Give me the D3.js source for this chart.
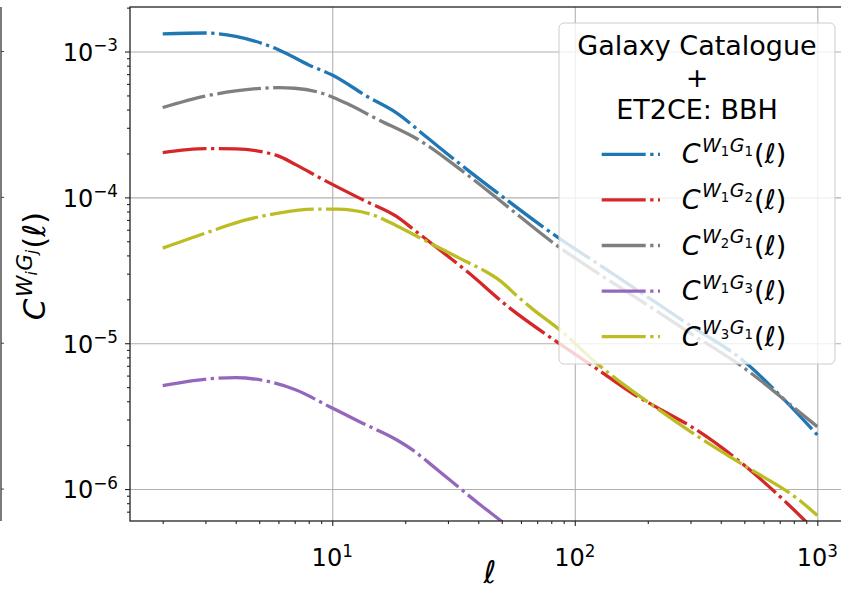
<!DOCTYPE html>
<html>
<head>
<meta charset="utf-8">
<script src="https://cdn.jsdelivr.net/npm/d3@7"></script>
<style>
  body { margin: 0; background: #fff; }
  svg { display: block; font-family: "DejaVu Sans", sans-serif; }
</style>
</head>
<body>
<svg id="chart" width="841" height="593"></svg>
<script>
// Angular cross-spectra of GW-sourced (W) and galaxy (G) tomographic bins
const ellW1G1 = [2, 3, 4, 6, 8, 10, 14, 18.4, 25, 36, 50, 84, 120, 200, 300, 500, 730, 1000];
const cW1G1   = [1.32e-3, 1.34e-3, 1.27e-3, 1.03e-3, 8.1e-4, 6.9e-4, 4.9e-4, 3.8e-4, 2.52e-4, 1.55e-4, 1.02e-4, 5.4e-5, 3.65e-5, 2.07e-5, 1.32e-5, 7.5e-6, 4.1e-6, 2.35e-6];

const ellW1G2 = [2, 3, 4, 5.9, 7.1, 9.2, 13.4, 18.4, 22, 26, 36, 54, 79, 123, 174, 218, 310, 528, 750, 1000];
const cW1G2   = [2.03e-4, 2.16e-4, 2.15e-4, 1.94e-4, 1.67e-4, 1.32e-4, 9.6e-5, 7.4e-5, 5.9e-5, 4.75e-5, 3.1e-5, 1.74e-5, 1.1e-5, 6.7e-6, 4.5e-6, 3.63e-6, 2.61e-6, 1.35e-6, 8.0e-7, 5.0e-7];

const ellW2G1 = [2, 3, 4, 6, 7, 9, 11.4, 15, 23, 36, 50, 84, 120, 200, 300, 500, 580, 775, 1000];
const cW2G1   = [4.13e-4, 4.95e-4, 5.37e-4, 5.65e-4, 5.6e-4, 5.2e-4, 4.43e-4, 3.5e-4, 2.45e-4, 1.43e-4, 9.3e-5, 4.7e-5, 3.15e-5, 1.82e-5, 1.17e-5, 6.75e-6, 5.6e-6, 3.78e-6, 2.68e-6];

const ellW1G3 = [2, 3.1, 4, 5.5, 7.1, 9.75, 13.4, 18.4, 21.5, 25.2, 29, 40, 50, 60];
const cW1G3   = [5.12e-6, 5.7e-6, 5.8e-6, 5.45e-6, 4.78e-6, 3.67e-6, 2.82e-6, 2.18e-6, 1.85e-6, 1.5e-6, 1.24e-6, 8.0e-7, 6.0e-7, 4.7e-7];

const ellW3G1 = [2, 3.1, 4.4, 6, 8.6, 10.4, 14.3, 18.4, 24.5, 30, 36, 43, 49, 58, 67.5, 87, 123, 148, 208, 330, 514, 827, 1000];
const cW3G1   = [4.49e-5, 5.8e-5, 7.0e-5, 7.8e-5, 8.3e-5, 8.3e-5, 7.7e-5, 6.4e-5, 5.0e-5, 4.2e-5, 3.6e-5, 3.1e-5, 2.7e-5, 2.1e-5, 1.7e-5, 1.23e-5, 7.3e-6, 5.7e-6, 3.78e-6, 2.23e-6, 1.41e-6, 8.6e-7, 6.6e-7];

// bin indices (W_i, G_j) for the legend, in plotting order
const binPairs = [["1", "1"], ["1", "2"], ["2", "1"], ["1", "3"], ["3", "1"]];
const colors   = ["#1f77b4", "#d62728", "#7f7f7f", "#9467bd", "#bcbd22"];
const legendTitle = ["Galaxy Catalogue", "+", "ET2CE: BBH"];

// tick labels
const xMajor = [10, 100, 1000];
const xMajorExp = ["1", "2", "3"];
const yMajor = [1e-6, 1e-5, 1e-4, 1e-3];
const yMajorExp = ["\u22126", "\u22125", "\u22124", "\u22123"];

const series = [
  { ell: ellW1G1, c: cW1G1 },
  { ell: ellW1G2, c: cW1G2 },
  { ell: ellW2G1, c: cW2G1 },
  { ell: ellW1G3, c: cW1G3 },
  { ell: ellW3G1, c: cW3G1 }
];

const svg = d3.select("#chart");
const plot = { left: 130, right: 850, top: 7, bottom: 521 };

const x = d3.scaleLog().domain([1.466, 1364]).range([plot.left, plot.right]);
const y = d3.scaleLog().domain([2.02e-3, 6.04e-7]).range([plot.top, plot.bottom]);

// minor tick positions (2..9 x 10^k) inside the domains
function minorTicks(scale) {
  const [a, b] = d3.extent(scale.domain());
  const out = [];
  for (let k = Math.floor(Math.log10(a)); k <= Math.ceil(Math.log10(b)); k++) {
    for (let m = 2; m <= 9; m++) {
      const v = m * Math.pow(10, k);
      if (v >= a && v <= b) out.push(v);
    }
  }
  return out;
}

// neighbouring panel edge at far left
const edge = svg.append("g");
edge.append("line").attr("x1", 1).attr("x2", 1).attr("y1", plot.top).attr("y2", plot.bottom)
  .attr("stroke", "#444").attr("stroke-width", 1.4);
yMajor.forEach(v => edge.append("line").attr("x1", 1).attr("x2", 4).attr("y1", y(v)).attr("y2", y(v))
  .attr("stroke", "#444").attr("stroke-width", 1));

// grid
const grid = svg.append("g");
grid.append("g").attr("transform", `translate(0,${plot.bottom})`)
  .call(d3.axisBottom(x).tickValues(xMajor).tickSize(-(plot.bottom - plot.top)).tickFormat(""));
grid.append("g").attr("transform", `translate(${plot.left},0)`)
  .call(d3.axisLeft(y).tickValues(yMajor).tickSize(-(plot.right - plot.left)).tickFormat(""));
grid.selectAll(".domain").remove();
grid.selectAll("line").attr("stroke", "#b0b0b0").attr("stroke-width", 1.1);

// curves
svg.append("clipPath").attr("id", "plotclip").append("rect")
  .attr("x", plot.left).attr("y", plot.top)
  .attr("width", plot.right - plot.left).attr("height", plot.bottom - plot.top);

const line = d3.line().x(d => x(d[0])).y(d => y(d[1])).curve(d3.curveMonotoneX);
const dash = "44 4.5 3.3 4.5";

const curves = svg.append("g").attr("clip-path", "url(#plotclip)");
series.forEach((s, i) => {
  curves.append("path")
    .datum(s.ell.map((e, k) => [e, s.c[k]]))
    .attr("d", line)
    .attr("fill", "none")
    .attr("stroke", colors[i])
    .attr("stroke-width", 3.3)
    .attr("stroke-dasharray", dash)
    .attr("stroke-linecap", "butt");
});

// axes ticks
const axes = svg.append("g");
const styleAxis = g => { g.selectAll(".domain").remove(); g.selectAll("line").attr("stroke", "#222").attr("stroke-width", 1.1); g.selectAll("text").remove(); };
axes.append("g").attr("transform", `translate(0,${plot.bottom})`)
  .call(d3.axisBottom(x).tickValues(xMajor).tickSize(5)).call(styleAxis);
axes.append("g").attr("transform", `translate(0,${plot.bottom})`)
  .call(d3.axisBottom(x).tickValues(minorTicks(x)).tickSize(3)).call(styleAxis);
axes.append("g").attr("transform", `translate(${plot.left},0)`)
  .call(d3.axisLeft(y).tickValues(yMajor).tickSize(5)).call(styleAxis);
axes.append("g").attr("transform", `translate(${plot.left},0)`)
  .call(d3.axisLeft(y).tickValues(minorTicks(y)).tickSize(3)).call(styleAxis);

// spines
svg.append("rect").attr("x", plot.left).attr("y", plot.top)
  .attr("width", plot.right - plot.left).attr("height", plot.bottom - plot.top)
  .attr("fill", "none").attr("stroke", "#222").attr("stroke-width", 1.3);

// mathtext-like label helper: parts = [text, size, italic, dy, dx]
function mathText(t, parts) {
  parts.forEach(p => {
    t.append("tspan").text(p[0])
      .attr("font-size", p[1])
      .attr("font-style", p[2] ? "italic" : "normal")
      .attr("dy", p[3] || 0)
      .attr("dx", p[4] || 0);
  });
  return t;
}

// tick labels
xMajor.forEach((v, i) => {
  const t = svg.append("text").attr("x", x(v)).attr("y", 566).attr("text-anchor", "middle").attr("fill", "#000");
  mathText(t, [["10", 24, false], [xMajorExp[i], 16.8, false, -9.5]]);
});
yMajor.forEach((v, i) => {
  const t = svg.append("text").attr("x", 118).attr("y", y(v) + 9.3).attr("text-anchor", "end").attr("fill", "#000");
  mathText(t, [["10", 24, false], [yMajorExp[i], 16.8, false, -9.5]]);
});

// axis labels
mathText(svg.append("text").attr("x", (plot.left + plot.right) / 2).attr("y", 583).attr("text-anchor", "middle"),
  [["\u2113", 31, true]]);
mathText(svg.append("text").attr("transform", "translate(45,266) rotate(-90)").attr("text-anchor", "middle"),
  [["C", 31, true], ["W", 21.7, true, -13.2, 1.5], ["i", 15.2, true, 5.2], ["G", 21.7, true, -5.2, 0.5],
   ["j", 15.2, true, 5.2], ["(", 31, false, 8, 1], ["\u2113", 31, true], [")", 31, false]]);

// legend
const lg = svg.append("g");
lg.append("rect").attr("x", 559).attr("y", 23).attr("width", 276).attr("height", 341)
  .attr("rx", 5).attr("fill", "#fff").attr("fill-opacity", 0.8)
  .attr("stroke", "#cccccc").attr("stroke-width", 1);
legendTitle.forEach((s, i) => {
  lg.append("text").attr("x", 697).attr("y", 55 + i * 32.2).attr("text-anchor", "middle")
    .attr("font-size", 27).attr("fill", "#000").text(s);
});
binPairs.forEach((bp, i) => {
  const yy = 154.3 + i * 45.6;
  lg.append("line").attr("x1", 601.7).attr("x2", 660).attr("y1", yy).attr("y2", yy)
    .attr("stroke", colors[i]).attr("stroke-width", 3.3)
    .attr("stroke-dasharray", dash).attr("stroke-linecap", "butt");
  const t = lg.append("text").attr("x", 681.7).attr("y", yy + 9).attr("fill", "#000");
  mathText(t, [["C", 27, true], ["W", 19, true, -11.5, 1.5], [bp[0], 13.3, false, 4.5], ["G", 19, true, -4.5, 0.5],
    [bp[1], 13.3, false, 4.5], ["(", 27, false, 7, 1], ["\u2113", 27, true], [")", 27, false]]);
});
</script>
</body>
</html>
